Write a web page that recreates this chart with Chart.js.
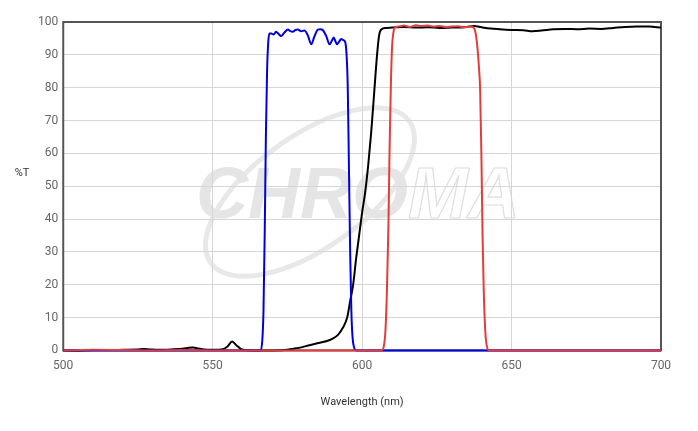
<!DOCTYPE html>
<html>
<head>
<meta charset="utf-8">
<script src="https://cdn.jsdelivr.net/npm/chart.js@4/dist/chart.umd.min.js"></script>
<style>
    html, body { margin: 0; padding: 0; background: #fff; }
    #wrap { width: 698px; height: 431px; position: relative; }
</style>
</head>
<body>
<div id="wrap"><canvas id="spectrumChart"></canvas></div>
<script>
// long-pass (black)
const lpWavelengths = [500, 505, 510, 515, 520, 525, 527, 529, 532, 536, 540, 542, 543.5, 545, 547, 550, 553, 555, 556.5, 558, 559.5, 561, 565, 570, 574, 577, 580, 582, 585, 588, 590, 592, 593.5, 595, 596, 597, 598, 599, 600, 601, 602, 603, 604, 605, 605.7, 606.5, 608, 610, 614, 618, 622, 626, 630, 634, 637.5, 640, 643, 646, 650, 654, 657, 660, 664, 668, 672, 676, 680, 684, 688, 692, 696, 700];
const lpValues = [0, 0, 0.1, 0.1, 0.2, 0.3, 0.4, 0.3, 0.2, 0.3, 0.5, 0.8, 0.9, 0.6, 0.3, 0.2, 0.3, 1.2, 2.7, 1.5, 0.4, 0.1, 0, 0, 0.1, 0.5, 1.0, 1.5, 2.2, 2.8, 3.5, 4.8, 6.8, 10, 15, 20, 28, 35, 42, 48, 56, 66, 78, 90, 96, 97.8, 98.2, 98.3, 98.5, 98.3, 98.4, 98.2, 98.3, 98.4, 98.8, 98.4, 98.0, 97.8, 97.6, 97.5, 97.2, 97.4, 97.8, 97.9, 97.8, 98.0, 97.9, 98.2, 98.5, 98.6, 98.6, 98.3];

// band-pass (blue)
const bpWavelengths = [500, 560, 566, 566.6, 567, 567.4, 567.8, 568.2, 568.6, 569, 569.6, 570.4, 571.2, 572, 572.9, 574, 575.2, 576, 576.8, 577.6, 578.5, 579.6, 580.7, 581.8, 583, 584, 585.2, 586, 586.9, 588, 589.1, 590, 590.5, 591, 591.6, 592.3, 593, 593.7, 594.3, 594.8, 595.2, 595.6, 596, 596.4, 596.8, 597.3, 598, 700];
const bpValues = [0, 0, 0, 3, 12, 35, 65, 85, 94, 96.5, 96.5, 96.2, 97, 96.4, 95.7, 96.8, 97.7, 97.2, 97, 97.5, 97.7, 97.2, 97.4, 96, 93.2, 95.5, 97.7, 97.8, 97.5, 95.7, 93.2, 94.5, 95.3, 94.3, 93.2, 94, 94.8, 94.5, 94, 90, 80, 55, 30, 12, 4, 1, 0, 0];

// emission band (red)
const emWavelengths = [500, 505, 510, 520, 530, 540, 550, 560, 570, 580, 590, 600, 606.5, 607.2, 607.8, 608.3, 608.8, 609.2, 609.6, 610, 610.5, 611, 612, 614, 616, 618, 620, 622, 624, 626, 628, 630, 632, 634, 636, 637.2, 638, 638.6, 639.1, 639.5, 639.9, 640.3, 640.7, 641.2, 641.8, 642.5, 650, 660, 680, 700];
const emValues = [0, 0.1, 0.2, 0.1, 0, 0.1, 0, 0, 0, 0, 0, 0, 0, 1, 6, 18, 38, 62, 80, 92, 97, 98.4, 98.6, 98.9, 98.5, 99, 98.8, 98.9, 98.6, 98.8, 98.5, 98.6, 98.7, 98.4, 98.6, 98.4, 96.5, 92, 86, 79, 60, 35, 18, 6, 1, 0, 0, 0, 0, 0];

const xTicks = [500, 550, 600, 650, 700];

function toPoints(xs, ys) {
    return xs.map(function (x, i) { return { x: x, y: ys[i] }; });
}

const watermark = {
    id: 'watermark',
    beforeDraw: function (chart) {
        const ctx = chart.ctx;
        ctx.save();
        // swoosh
        ctx.strokeStyle = '#e8e8e8';
        ctx.lineWidth = 5;
        ctx.beginPath();
        ctx.ellipse(310, 192, 122, 56, -0.62, 0, Math.PI * 2);
        ctx.stroke();
        ctx.font = 'italic bold 72px "Liberation Sans", Arial, sans-serif';
        ctx.textBaseline = 'alphabetic';
        ctx.fillStyle = '#e5e5e5';
        ctx.fillText('CHRO', 196, 218);
        const w = ctx.measureText('CHRO').width;
        ctx.strokeStyle = '#dedede';
        ctx.lineWidth = 1.2;
        ctx.strokeText('MA', 196 + w, 218);
        ctx.restore();
    }
};

const frame = {
    id: 'frame',
    beforeDatasetsDraw: function (chart) {
        const a = chart.chartArea;
        const ctx = chart.ctx;
        ctx.save();
        ctx.strokeStyle = '#555';
        ctx.lineWidth = 2;
        ctx.strokeRect(a.left, a.top, a.right - a.left, a.bottom - a.top);
        ctx.restore();
    },
    afterDraw: function (chart) {
        const ctx = chart.ctx;
        const a = chart.chartArea;
        ctx.save();
        ctx.font = '11px Roboto, sans-serif';
        ctx.fillStyle = '#333';
        ctx.textAlign = 'center';
        ctx.textBaseline = 'middle';
        ctx.fillText('%T', 22, a.top + (a.bottom - a.top) * 0.46);
        ctx.restore();
    }
};

const canvas = document.getElementById('spectrumChart');
new Chart(canvas, {
    type: 'line',
    data: {
        datasets: [{
            label: 'Long pass',
            data: toPoints(lpWavelengths, lpValues),
            borderColor: '#000',
            order: 3
        }, {
            label: 'Excitation',
            data: toPoints(bpWavelengths, bpValues),
            borderColor: '#0000dd',
            order: 2
        }, {
            label: 'Emission',
            data: toPoints(emWavelengths, emValues),
            borderColor: '#e23c3c',
            order: 1
        }]
    },
    options: {
        responsive: true,
        maintainAspectRatio: false,
        animation: false,
        layout: { padding: { left: 33, right: 37, top: 22, bottom: 18 } },
        datasets: { line: { clip: 3 } },
        elements: {
            point: { radius: 0 },
            line: { borderWidth: 2, cubicInterpolationMode: 'monotone', fill: false }
        },
        plugins: {
            legend: { display: false },
            tooltip: { enabled: false }
        },
        scales: {
            x: {
                type: 'linear',
                min: 500,
                max: 700,
                afterBuildTicks: function (axis) {
                    axis.ticks = xTicks.map(function (v) { return { value: v }; });
                },
                grid: { color: '#d6d6d6', drawTicks: false },
                border: { display: false },
                ticks: { color: '#666', padding: 8, font: { family: 'Roboto', size: 12 } },
                title: {
                    display: true,
                    text: 'Wavelength (nm)',
                    color: '#333',
                    font: { family: 'Roboto', size: 11 },
                    padding: { top: 15 }
                }
            },
            y: {
                min: 0,
                max: 100,
                ticks: { stepSize: 10, color: '#666', padding: 5, font: { family: 'Roboto', size: 12 } },
                grid: { color: '#d6d6d6', drawTicks: false },
                border: { display: false }
            }
        }
    },
    plugins: [watermark, frame]
});
</script>
</body>
</html>
